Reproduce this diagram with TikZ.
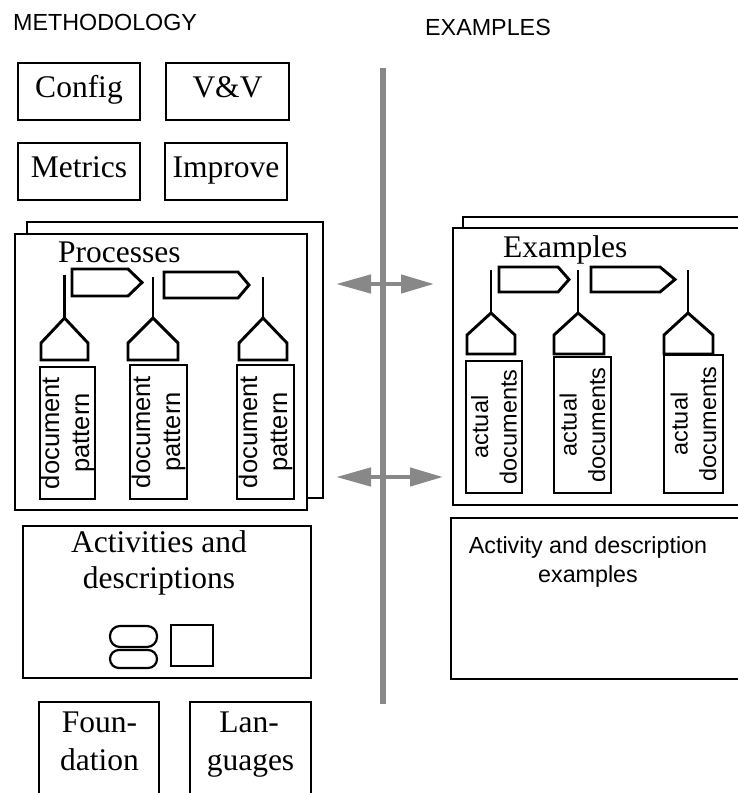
\documentclass[tikz,border=0pt]{standalone}
\usepackage{fontspec}
\setmainfont{Liberation Serif}
\newfontfamily\sansf{Liberation Sans}
\usetikzlibrary{arrows.meta}
\definecolor{vgray}{RGB}{136,136,136}
\begin{document}
\begin{tikzpicture}[x=1pt,y=-1pt,
  ln/.style={line width=2.9pt},
  serifbig/.style={font=\fontsize{31.5}{36}\selectfont},
  sanslab/.style={font=\sansf\fontsize{23.3}{29}\selectfont},
  tbox/.style={draw, ln, serifbig, minimum height=57pt, text height=20pt, text depth=9pt, inner sep=0pt},
  docnode/.style={draw, ln, rotate=90, align=center, inner sep=0pt},
  docfont/.style={font=\sansf\fontsize{25.5}{30}\selectfont},
  actfont/.style={font=\sansf\fontsize{23.5}{28.5}\selectfont},
  frame/.style={draw, ln, fill=white},
  outl/.style={draw, ln, line join=miter},
  tline/.style={ln},
  garrow/.style={draw=vgray, line width=4.5pt, {Triangle[length=35pt,width=18pt]}-{Triangle[length=33pt,width=18pt]}}
]
\useasboundingbox (0,0) rectangle (738,793);
\clip (0,0) rectangle (738,793);

% headings
\node[sanslab, anchor=base west, inner sep=0pt] (meth) at (13,30) {METHODOLOGY};
\node[sanslab, anchor=base west, inner sep=0pt] (exh) at (425,35) {EXAMPLES};

% divider
\coordinate (vtop) at (383,68);
\coordinate (vbot) at (383,704);
\draw[vgray, line width=6pt] (vtop) -- (vbot);

% top boxes
\node[tbox, minimum width=122pt] (config) at (79,91.5) {Config};
\node[tbox, minimum width=123pt] (vv) at (227.5,91.5) {V\&V};
\node[tbox, minimum width=122pt] (metrics) at (79,171.5) {Metrics};
\node[tbox, minimum width=122pt] (improve) at (226,171.5) {Improve};

% Processes frames
\draw[frame] (27,222) rectangle (323,498);
\draw[frame] (15,234) rectangle (307,510);
\node[serifbig, anchor=base west, inner sep=0pt] (proc) at (58,262) {Processes};

% process chevrons
\draw[outl] (72,269) -- (128,269) -- (142,282.5) -- (128,296) -- (72,296) -- cycle;
\draw[outl] (164,272) -- (238,272) -- (249,285) -- (238,298) -- (164,298) -- cycle;

% process houses and lines
\draw[outl] (41,360) -- (41,343) -- (64.5,318) -- (88,343) -- (88,360) -- cycle;
\draw[outl] (128,360) -- (128,343) -- (153,318) -- (178,343) -- (178,360) -- cycle;
\draw[outl] (239,360) -- (239,343) -- (263,318) -- (287,343) -- (287,360) -- cycle;
\coordinate (pt1) at (64.5,275); \coordinate (ph1) at (64.5,318);
\coordinate (pt2) at (153,277); \coordinate (ph2) at (153,318);
\coordinate (pt3) at (263,277); \coordinate (ph3) at (263,318);
\draw[tline] (pt1) -- (ph1);
\draw[tline] (pt2) -- (ph2);
\draw[tline] (pt3) -- (ph3);

% document pattern boxes
\node[docnode, docfont, minimum width=132pt, minimum height=55pt] (pd1) at (67.5,433) {document\\pattern};
\node[docnode, docfont, minimum width=134pt, minimum height=57pt] (pd2) at (158.5,432) {document\\pattern};
\node[docnode, docfont, minimum width=134pt, minimum height=57pt] (pd3) at (265.5,432) {document\\pattern};

% Examples frames
\draw[frame] (463,217) rectangle (770,495);
\draw[frame] (453,228) rectangle (770,505);
\node[serifbig, anchor=base west, inner sep=0pt] (exs) at (503,257) {Examples};

% example chevrons
\draw[outl] (499,267) -- (558,267) -- (569,279.5) -- (558,292) -- (499,292) -- cycle;
\draw[outl] (591,267) -- (660,267) -- (675,279.5) -- (660,292) -- (591,292) -- cycle;

% example houses and lines
\draw[outl] (467,354) -- (467,335) -- (491,313) -- (515,335) -- (515,354) -- cycle;
\draw[outl] (554,354) -- (554,335) -- (578,313) -- (604,335) -- (604,354) -- cycle;
\draw[outl] (664,354) -- (664,335) -- (688,313) -- (713,335) -- (713,354) -- cycle;
\coordinate (et1) at (491,270); \coordinate (eh1) at (491,313);
\coordinate (et2) at (578,270); \coordinate (eh2) at (578,313);
\coordinate (et3) at (688,270); \coordinate (eh3) at (688,313);
\draw[tline] (et1) -- (eh1);
\draw[tline] (et2) -- (eh2);
\draw[tline] (et3) -- (eh3);

% actual documents boxes
\node[docnode, actfont, minimum width=132pt, minimum height=56pt] (ed1) at (494,427) {actual\\documents};
\node[docnode, actfont, minimum width=136pt, minimum height=57pt] (ed2) at (582.5,425) {actual\\documents};
\node[docnode, actfont, minimum width=138pt, minimum height=59pt] (ed3) at (693.5,424) {actual\\documents};

% gray double arrows
\coordinate (ua1) at (336,284); \coordinate (ua2) at (434,284);
\coordinate (la1) at (336,477); \coordinate (la2) at (443,477);
\draw[garrow] (ua1) -- (ua2);
\draw[garrow] (la1) -- (la2);

% Activities and descriptions
\node[draw, ln, minimum width=288pt, minimum height=152pt, inner sep=0pt] (act) at (167,602) {};
\node[serifbig, anchor=base, inner sep=0pt] (act1) at (159,552) {Activities and};
\node[serifbig, anchor=base, inner sep=0pt] (act2) at (159,588) {descriptions};
\draw[line width=2.2pt, rounded corners=10pt] (110,626) rectangle (157,647);
\draw[line width=2.2pt, rounded corners=9pt] (110,650) rectangle (157,668);
\draw[line width=2.4pt] (171,625) rectangle (213,666);

% Activity and description examples
\draw[ln] (451,518) rectangle (770,679);
\node[sanslab, anchor=base, inner sep=0pt] (aex1) at (588,553) {Activity and description};
\node[sanslab, anchor=base, inner sep=0pt] (aex2) at (588,582) {examples};

% Foundation and Languages (open at bottom)
\draw[ln] (39,795) -- (39,702) -- (159,702) -- (159,795);
\node[serifbig, anchor=base, inner sep=0pt] (fo1) at (99.5,732) {Foun-};
\node[serifbig, anchor=base, inner sep=0pt] (fo2) at (99.5,770) {dation};
\draw[ln] (190,795) -- (190,702) -- (311,702) -- (311,795);
\node[serifbig, anchor=base, inner sep=0pt] (la1t) at (249,732) {Lan-};
\node[serifbig, anchor=base, inner sep=0pt] (la2t) at (250.5,770) {guages};
\end{tikzpicture}
\end{document}
